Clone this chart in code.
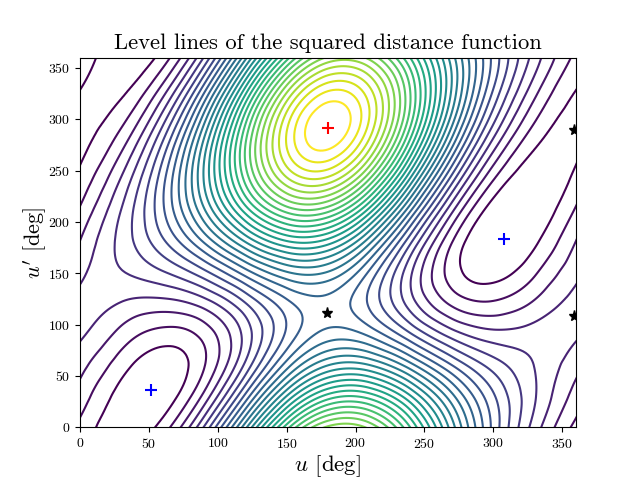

import numpy as np, matplotlib
matplotlib.use("Agg")
import matplotlib.pyplot as plt, matplotlib.tri as mtri, seaborn as sns

# Level heights (in units of one contour step),
# rows u' = 0, 30, ... 330; columns u = 0, 30, ... 330; the field repeats every 360 deg.
u_deg = np.arange(0, 360, 30.0)
up_deg = np.arange(0, 360, 30.0)
heights = np.array([
 [1.73,0.35,1.44,6.07,13.67,21.52,26.18,25.71,20.92,14.45,8.70,4.54],
 [2.57,0.59,0.37,3.31,9.31,16.07,20.44,20.57,17.10,12.31,8.16,5.09],
 [3.35,1.42,0.41,1.93,6.26,11.55,15.04,15.11,12.42,9.05,6.57,4.97],
 [4.15,2.62,1.57,2.33,5.37,9.20,11.44,10.82,8.18,5.58,4.39,4.45],
 [4.30,3.91,3.57,4.41,6.89,9.66,10.63,8.87,5.52,2.83,2.20,3.20],
 [3.75,4.91,5.84,7.60,10.40,12.80,12.82,9.77,5.14,1.53,0.59,1.88],
 [3.04,5.34,7.76,11.03,14.93,17.75,17.38,13.24,7.12,2.01,-0.05,0.83],
 [2.17,5.06,8.80,13.75,19.25,23.16,23.08,18.34,10.91,4.11,0.45,0.24],
 [1.33,4.16,8.69,15.05,22.23,27.61,28.41,23.73,15.50,7.29,1.96,0.28],
 [0.77,2.91,7.49,14.62,23.08,29.92,31.96,27.98,19.71,10.73,4.11,0.97],
 [0.67,1.67,5.53,12.58,21.60,29.50,32.81,29.96,22.41,13.51,6.34,2.13],
 [1.03,0.74,3.33,9.46,18.16,26.43,30.70,29.14,22.86,14.88,8.02,3.45],
])
levels = list(range(1, 33))
max_u, max_up = [180.0], [291.9]
min_u, min_up = [51.3, 307.7], [36.5, 183.7]
saddle_u, saddle_up = [179.5, 358.5, 358.5], [111.7, 108.5, 289.6]
x_ticks = list(range(0, 351, 50))
y_ticks = list(range(0, 351, 50))

sns.set_style("ticks")
plt.rcParams.update({'font.family': ['cmr10', 'DejaVu Sans'], 'mathtext.fontset': 'cm',
                     'axes.formatter.use_mathtext': True, 'xtick.direction': 'out', 'ytick.direction': 'out',
                     'axes.linewidth': 0.8, 'axes.edgecolor': 'k', 'xtick.color': 'k', 'ytick.color': 'k',
                     'text.color': 'k', 'axes.labelcolor': 'k'})

pad = 2
Zp = np.pad(heights, pad, mode='wrap')
xp = np.arange(-pad, 12 + pad) * 30.0
yp = np.arange(-pad, 12 + pad) * 30.0
X, Y = np.meshgrid(xp, yp)
tri = mtri.Triangulation(X.ravel(), Y.ravel())
interp = mtri.CubicTriInterpolator(tri, Zp.ravel(), kind='min_E')
tri_f, z_f = mtri.UniformTriRefiner(tri).refine_field(Zp.ravel(), triinterpolator=interp, subdiv=4)

fig, ax = plt.subplots(figsize=(6.4, 4.8), dpi=100)
ax.tricontour(tri_f, z_f, levels=levels, cmap='viridis')
ax.plot(max_u, max_up, 'r+', ms=9, mew=1.5)
ax.plot(min_u, min_up, 'b+', ms=9, mew=1.5)
ax.plot(saddle_u, saddle_up, 'k*', ms=8)
ax.set_xticks(x_ticks); ax.set_yticks(y_ticks)
ax.set_xlim(0, 360); ax.set_ylim(0, 360)
ax.set_title('Level lines of the squared distance function', fontsize=16.3)
ax.set_xlabel(r'$u$ [deg]', fontsize=16.5, labelpad=1.5)
ax.set_ylabel(r"$u'$ [deg]", fontsize=16, labelpad=-1)
fig.savefig('out.png', dpi=100)
